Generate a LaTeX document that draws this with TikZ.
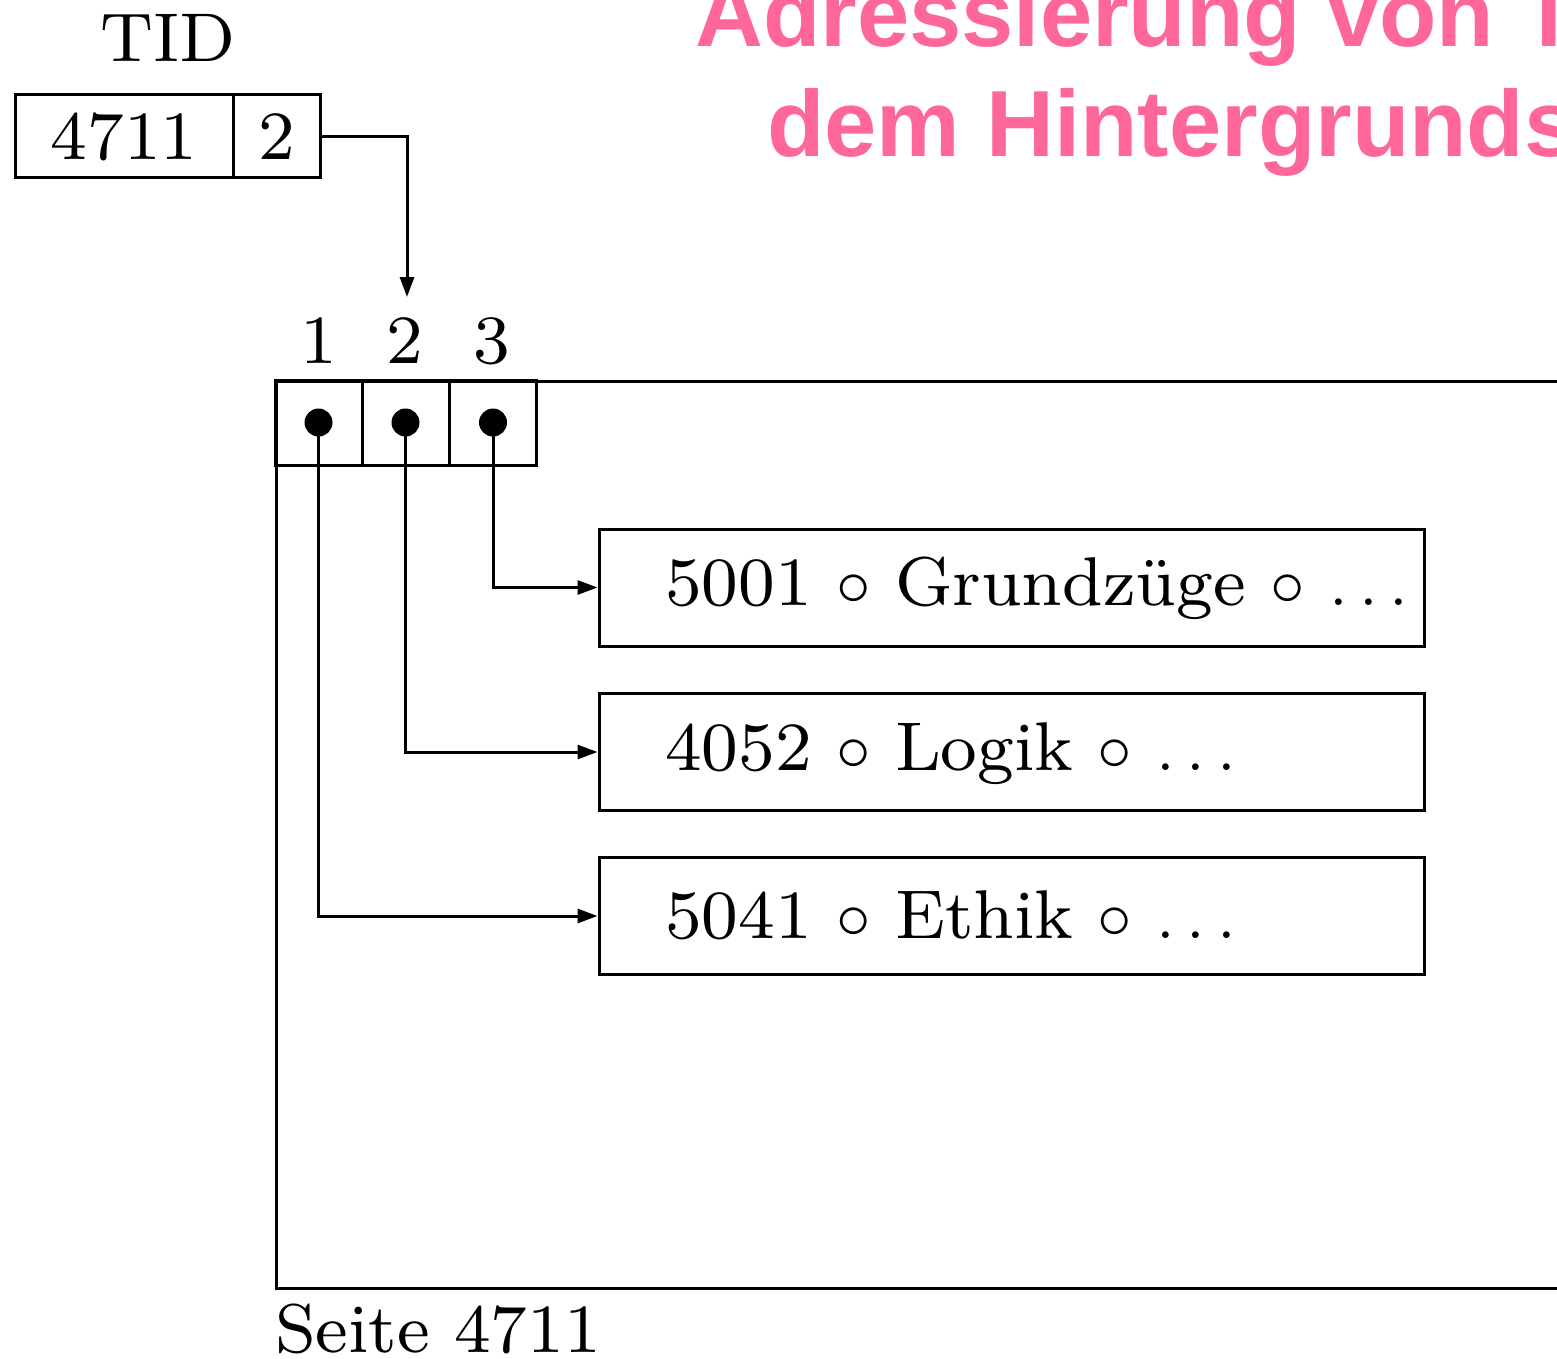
\RequirePackage{fix-cm}
\documentclass[tikz,border=0pt]{standalone}
\usepackage{fontspec}
\setmainfont{lmroman8-regular.otf}
\newfontfamily\titlefont{Liberation Sans}
\usetikzlibrary{arrows.meta}
\definecolor{titlepink}{HTML}{FF6699}
\begin{document}
\begin{tikzpicture}[x=1pt,y=-1pt,
  box/.style={draw, line width=3pt, inner sep=0pt},
  arr/.style={line width=3pt, -{Triangle[length=20pt,width=14pt]}},
  txt/.style={font=\fontsize{69}{80}\selectfont, inner sep=0pt},
  titletxt/.style={font=\titlefont\bfseries\fontsize{94}{110}\selectfont, text=titlepink, inner sep=0pt, anchor=base west}]
\useasboundingbox (0,0) rectangle (1557,1359);
\clip (0,0) rectangle (1557,1359);

% title
\node[titletxt] (title1) at (695,47) {Adressierung von T};
\node[titletxt] (title2) at (767,157) {dem Hintergrunds};

% TID
\node[txt, anchor=base] (tid) at (168,62) {TID};
\node[box, txt, minimum width=218, minimum height=83] (tidp) at (124,136.5) {4711};
\node[box, txt, minimum width=87, minimum height=83] (tids) at (276.5,136.5) {2};
\coordinate (tip) at (407,297);
\draw[arr] (tids.east) -| (tip);

% page
\node[box, minimum width=1400, minimum height=907, anchor=north west] (page) at (275,380) {};
\node[txt, anchor=base west] (seite) at (275,1352) {Seite 4711};

% slots
\node[box, minimum width=87, minimum height=85] (s1) at (318.5,422.5) {};
\node[box, minimum width=87, minimum height=85] (s2) at (405.5,422.5) {};
\node[box, minimum width=87, minimum height=85] (s3) at (493,422.5) {};
\node[txt, anchor=base] (n1) at (319,363) {1};
\node[txt, anchor=base] (n2) at (405,363) {2};
\node[txt, anchor=base] (n3) at (492,363) {3};

% records
\node[box, minimum width=825, minimum height=117] (r1) at (1011.5,587.5) {};
\node[box, minimum width=825, minimum height=117] (r2) at (1011.5,752) {};
\node[box, minimum width=825, minimum height=117] (r3) at (1011.5,916) {};
\node[txt, anchor=base west] (l1) at (665,605) {5001 $\circ$ Grundzüge $\circ$ $\ldots$};
\node[txt, anchor=base west] (l2) at (665,770) {4052 $\circ$ Logik $\circ$ $\ldots$};
\node[txt, anchor=base west] (l3) at (665,938) {5041 $\circ$ Ethik $\circ$ $\ldots$};

% pointers
\foreach \i/\r in {1/r3, 2/r2, 3/r1} {
  \fill (s\i.center) circle (14);
  \draw[arr] (s\i.center) |- (\r.west);
}
\end{tikzpicture}
\end{document}
